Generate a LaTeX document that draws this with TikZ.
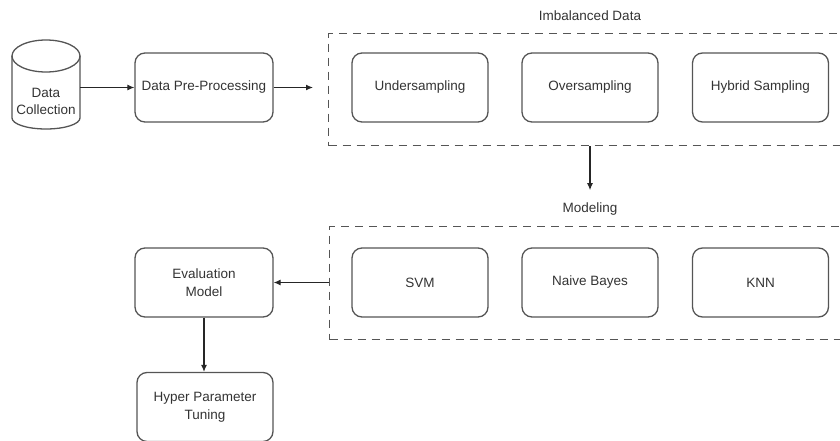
\documentclass[tikz,border=0pt]{standalone}
\usepackage{fontspec}
\setmainfont{Liberation Sans}
\usetikzlibrary{arrows.meta,calc}
\definecolor{edge}{HTML}{555555}
\definecolor{txt}{HTML}{333333}
\begin{document}
\begin{tikzpicture}[x=1pt,y=-1pt,
  font=\fontsize{13.5}{18}\selectfont,
  every node/.style={text=txt},
  box/.style={draw=edge, line width=1.3pt, rounded corners=10pt, minimum width=136pt, minimum height=69pt, align=center, inner sep=2pt},
  group/.style={draw=edge, line width=1.2pt, dash pattern=on 8pt off 6pt, minimum height=112pt, inner sep=0pt},
  arr/.style={draw=black!85, line width=1.1pt, -{Latex[length=7pt,width=6pt]}}
]
\useasboundingbox (0,0) rectangle (840,441);
% cylinder
\draw[edge, line width=1.3pt] (12,56) -- (12,118) arc[start angle=180, end angle=360, x radius=34pt, y radius=11pt] -- (80,56);
\draw[edge, line width=1.3pt] (46,56) ellipse[x radius=34pt, y radius=16pt];
\node[minimum width=68pt, minimum height=89pt, inner sep=0pt] (cyl) at (46,84.5) {};
\node[align=center, font=\fontsize{13.5}{17}\selectfont] (dctext) at (46,101.5) {Data\\Collection};
% pre-processing
\node[box, minimum width=138pt] (pre) at (204,87.5) {Data Pre-Processing};
% imbalanced group
\node[group, minimum width=520pt, anchor=north west] (imb) at (328,33) {};
\node (imblabel) at (590,16) {Imbalanced Data};
\node[box] (under) at (420,87.5) {Undersampling};
\node[box] (over) at (590,87.5) {Oversampling};
\node[box] (hyb) at (760.5,87.5) {Hybrid Sampling};
% modeling group
\node[group, minimum width=520pt, anchor=north west, minimum height=113pt] (mod) at (329,226) {};
\node (modlabel) at (590,209) {Modeling};
\node[box] (svm) at (420,282.5) {SVM};
\node[box] (nb) at (590,282.5) {Naive Bayes};
\node[box] (knn) at (760.5,282.5) {KNN};
% left column
\node[box, minimum width=138pt] (eval) at (204,282.5) {Evaluation\\Model};
\node[box, minimum width=136pt] (hyper) at (205,407) {Hyper Parameter\\Tuning};
% connectors
\draw[arr] (cyl.east |- pre.west) -- (pre.west);
\draw[arr, shorten >=15pt] (pre.east) -- (pre.east -| imb.west);
\draw[arr] (imb.south -| modlabel) -- ($(modlabel.north)+(0,-9)$);
\draw[arr] (mod.west |- eval.east) -- (eval.east);
\draw[arr] (eval.south) -- (eval.south |- hyper.north);
\end{tikzpicture}
\end{document}
